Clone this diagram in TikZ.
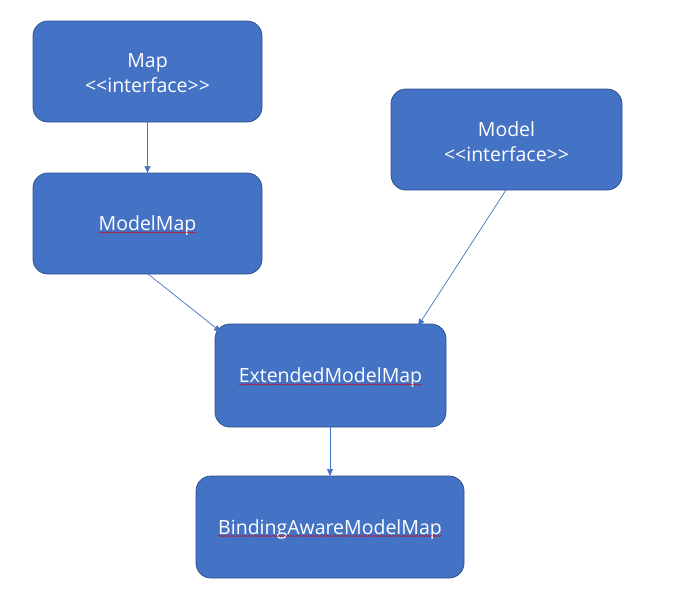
\documentclass[tikz,border=0pt]{standalone}
\usepackage{fontspec}
\setmainfont{Open Sans}
\usetikzlibrary{arrows.meta,decorations.pathmorphing,calc}
\definecolor{boxfill}{HTML}{4472C4}
\definecolor{boxline}{HTML}{2F528F}
\definecolor{arrowc}{HTML}{4472C4}
\begin{document}
\begin{tikzpicture}[x=1pt,y=-1pt,
  box/.style={draw=boxline,line width=0.8pt,fill=boxfill,rounded corners=15pt},
  txt/.style={text=white,inner sep=0pt,font=\fontsize{19.5}{25}\selectfont,align=center},
  conn/.style={draw=arrowc,line width=0.7pt,-{Triangle[width=6pt,length=7pt]}},
  squiggle/.style={draw=red!85!black,line width=0.4pt,decorate,decoration={snake,amplitude=0.6pt,segment length=3pt}}]
\useasboundingbox (0,0) rectangle (676,592);
% boxes
\draw[box] (33,21) rectangle (262,122);
\draw[box] (33,173) rectangle (262,274);
\draw[box] (391,89) rectangle (622,190);
\draw[box] (215,324) rectangle (446,427);
\draw[box] (196,476) rectangle (464,578);
\node[inner sep=0pt] (map) at (147.5,71.5) {};
\node[inner sep=0pt] (modelmap) at (147.5,223.5) {};
\node[inner sep=0pt] (model) at (506.5,139.5) {};
\node[inner sep=0pt] (emm) at (330.5,375.5) {};
\node[inner sep=0pt] (bamm) at (330,527) {};
% texts
\node[txt] (tmap) at ($(map)+(0,2)$) {Map\\{<}{<}interface{>}{>}};
\node[txt] (tmodel) at ($(model)+(0,2)$) {Model\\{<}{<}interface{>}{>}};
\node[txt,anchor=base] (tmodelmap) at ($(modelmap)+(0,7)$) {ModelMap};
\node[txt,anchor=base] (temm) at ($(emm)+(0,7)$) {ExtendedModelMap};
\node[txt,anchor=base] (tbamm) at ($(bamm)+(0,7)$) {BindingAwareModelMap};
\foreach \t in {tmodelmap,temm,tbamm}{
  \draw[squiggle] ($(\t.base west)+(0,2)$) -- ($(\t.base east)+(0,2)$);
}
% connector endpoints
\coordinate (a1) at (147.5,122);
\coordinate (a2) at (147.5,173);
\coordinate (b1) at (148,274);
\coordinate (b2) at (221,332);
\coordinate (c1) at (506,190);
\coordinate (c2) at (418,326);
\coordinate (d1) at (330,427);
\coordinate (d2) at (330,476);
\draw[conn] (a1) -- (a2);
\draw[conn] (b1) -- (b2);
\draw[conn] (c1) -- (c2);
\draw[conn] (d1) -- (d2);
\end{tikzpicture}
\end{document}
